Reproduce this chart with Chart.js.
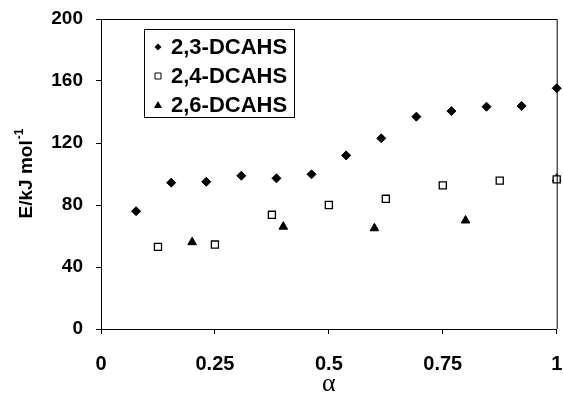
<!DOCTYPE html>
<html>
<head>
<meta charset="utf-8">
<script src="https://cdn.jsdelivr.net/npm/chart.js@4/dist/chart.umd.min.js"></script>
<style>
  html, body { margin: 0; padding: 0; background: #fff; }
  #wrap { width: 563px; height: 402px; }
</style>
</head>
<body>
<div id="wrap"><canvas id="chart" width="563" height="402"></canvas></div>
<script>
// values
const seriesNames = ["2,3-DCAHS", "2,4-DCAHS", "2,6-DCAHS"];
const alpha23 = [0.077, 0.154, 0.231, 0.308, 0.385, 0.462, 0.538, 0.615, 0.692, 0.769, 0.846, 0.923, 1];
const energy23 = [76, 94.4, 95, 98.9, 97.2, 99.8, 112, 123, 137, 140.6, 143.4, 143.9, 155.3];
const alpha24 = [0.125, 0.25, 0.375, 0.5, 0.625, 0.75, 0.875, 1];
const energy24 = [53, 54.5, 73.7, 80, 84, 92.7, 95.7, 96.5];
const alpha26 = [0.2, 0.4, 0.6, 0.8, 1];
const energy26 = [56, 66, 65, 70, 97];
const xTicks = [0, 0.25, 0.5, 0.75, 1];
const yTicks = [0, 40, 80, 120, 160, 200];

const toPoints = (xs, ys) => xs.map((x, i) => ({ x: x, y: ys[i] }));

// frame around the plot + axis titles + boxed legend
const decorations = {
    id: "decorations",
    afterDraw(chart) {
        const ctx = chart.ctx;
        const a = chart.chartArea;
        ctx.save();
        ctx.strokeStyle = "#000";
        ctx.lineWidth = 1;
        ctx.beginPath();
        ctx.moveTo(a.left, a.top + 0.5);
        ctx.lineTo(a.right + 0.5, a.top + 0.5);
        ctx.lineTo(a.right + 0.5, a.bottom);
        ctx.stroke();

        // x title
        ctx.fillStyle = "#000";
        ctx.font = "26px 'Liberation Serif', serif";
        ctx.textAlign = "center";
        ctx.textBaseline = "alphabetic";
        ctx.fillText("α", (a.left + a.right) / 2, 391);

        // y title with superscript
        ctx.save();
        ctx.translate(32, (a.top + a.bottom) / 2);
        ctx.rotate(-Math.PI / 2);
        ctx.font = "bold 19px 'Liberation Sans', Arial, sans-serif";
        const main = "E/kJ mol";
        const wMain = ctx.measureText(main).width;
        ctx.font = "bold 12px 'Liberation Sans', Arial, sans-serif";
        const sup = "-1";
        const wSup = ctx.measureText(sup).width;
        const start = -(wMain + wSup) / 2;
        ctx.textAlign = "left";
        ctx.font = "bold 19px 'Liberation Sans', Arial, sans-serif";
        ctx.fillText(main, start, 0);
        ctx.font = "bold 12px 'Liberation Sans', Arial, sans-serif";
        ctx.fillText(sup, start + wMain + 1, -9);
        ctx.restore();

        // legend
        const box = { x: 144.5, y: 29.5, w: 150, h: 88 };
        ctx.lineWidth = 1;
        ctx.strokeRect(box.x, box.y, box.w, box.h);
        ctx.font = "bold 22px 'Liberation Sans', Arial, sans-serif";
        ctx.textAlign = "left";
        ctx.textBaseline = "middle";
        const rows = [47, 76, 105];
        chart.data.datasets.forEach((ds, i) => {
            const cx = 158, cy = rows[i];
            ctx.beginPath();
            if (ds.pointStyle === "rectRot") {
                ctx.moveTo(cx, cy - 3.5); ctx.lineTo(cx + 3.5, cy);
                ctx.lineTo(cx, cy + 3.5); ctx.lineTo(cx - 3.5, cy);
                ctx.closePath(); ctx.fillStyle = "#000"; ctx.fill();
            } else if (ds.pointStyle === "rect") {
                ctx.rect(cx - 3, cy - 3, 6, 6);
                ctx.fillStyle = "#fff"; ctx.fill(); ctx.stroke();
            } else {
                ctx.moveTo(cx, cy - 4); ctx.lineTo(cx + 4, cy + 3); ctx.lineTo(cx - 4, cy + 3);
                ctx.closePath(); ctx.fillStyle = "#000"; ctx.fill();
            }
            ctx.fillStyle = "#000";
            ctx.fillText(ds.label, 171, cy + 1);
        });
        ctx.restore();
    }
};

new Chart(document.getElementById("chart"), {
    type: "scatter",
    data: {
        datasets: [
            {
                label: seriesNames[0],
                data: toPoints(alpha23, energy23),
                pointStyle: "rectRot",
                pointRadius: 4.5,
                backgroundColor: "#000",
                borderColor: "#000",
                borderWidth: 1,
                clip: false
            },
            {
                label: seriesNames[1],
                data: toPoints(alpha24, energy24),
                pointStyle: "rect",
                pointRadius: 5,
                backgroundColor: "#fff",
                borderColor: "#000",
                borderWidth: 1.3,
                clip: false
            },
            {
                label: seriesNames[2],
                data: toPoints(alpha26, energy26),
                pointStyle: "triangle",
                pointRadius: 5,
                backgroundColor: "#000",
                borderColor: "#000",
                borderWidth: 1,
                clip: false
            }
        ]
    },
    options: {
        responsive: false,
        animation: false,
        layout: { padding: { top: 19, right: 6, left: 0, bottom: 0 } },
        plugins: { legend: { display: false }, tooltip: { enabled: false } },
        scales: {
            x: {
                type: "linear",
                min: 0,
                max: 1,
                afterFit: (s) => { s.height = 73; s.paddingLeft = 0; s.paddingRight = 0; },
                afterBuildTicks: (s) => { s.ticks = xTicks.map(v => ({ value: v })); },
                border: { display: true, color: "#000", width: 1 },
                grid: { drawOnChartArea: false, color: "#000", tickLength: 5 },
                ticks: {
                    color: "#000",
                    padding: 18,
                    maxRotation: 0,
                    font: { family: "'Liberation Sans', Arial, sans-serif", size: 20, weight: "bold" },
                    callback: (v) => String(v)
                }
            },
            y: {
                type: "linear",
                min: 0,
                max: 200,
                afterFit: (s) => { s.width = 101; s.paddingTop = 0; s.paddingBottom = 0; },
                afterBuildTicks: (s) => { s.ticks = yTicks.map(v => ({ value: v })); },
                border: { display: true, color: "#000", width: 1 },
                grid: { drawOnChartArea: false, color: "#000", tickLength: 5 },
                ticks: {
                    color: "#000",
                    padding: 13,
                    font: { family: "'Liberation Sans', Arial, sans-serif", size: 19, weight: "bold" },
                    callback: (v) => String(v)
                }
            }
        }
    },
    plugins: [decorations]
});
</script>
</body>
</html>
